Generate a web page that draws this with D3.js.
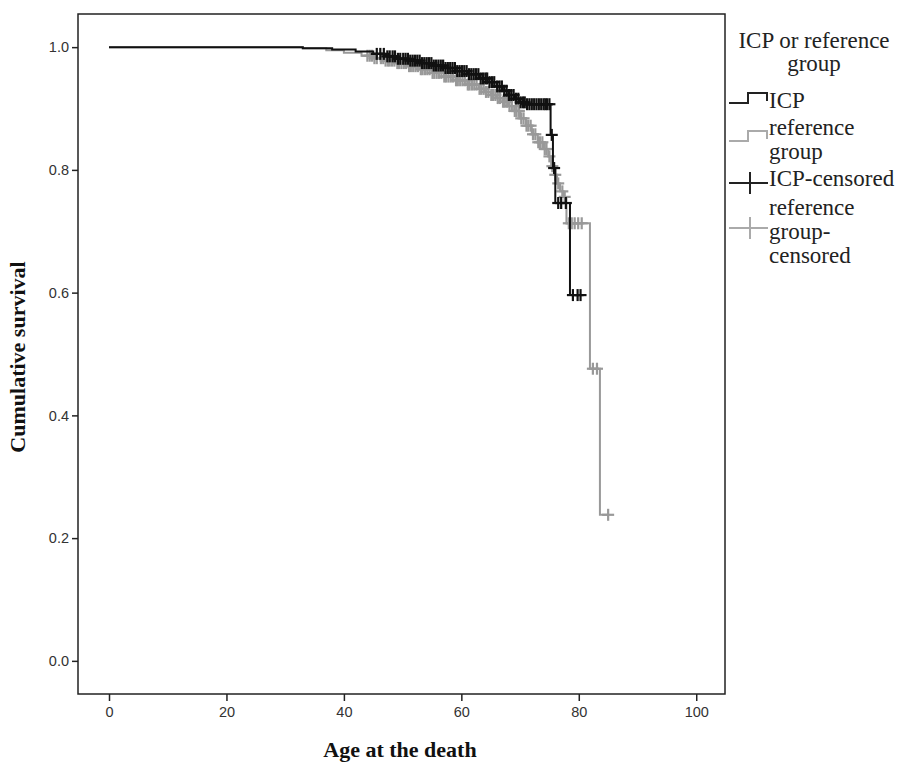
<!DOCTYPE html>
<html>
<head>
<meta charset="utf-8">
<script src="https://cdn.jsdelivr.net/npm/d3@7"></script>
<style>
  body { margin: 0; background: #fff; }
  svg { display: block; }
</style>
</head>
<body>
<svg></svg>
<script>
// Kaplan-Meier steps (age, survival after event)
var icpAges = [0, 33, 38, 42, 45, 47, 49, 51, 53, 55, 57, 59, 61, 63, 64.5, 66, 67, 68, 69, 70, 71, 75.2, 75.6, 76, 78.5];
var icpSurv = [1.0, 0.998, 0.996, 0.993, 0.989, 0.985, 0.981, 0.978, 0.974, 0.970, 0.966, 0.961, 0.956, 0.949, 0.943, 0.936, 0.929, 0.922, 0.916, 0.910, 0.907, 0.857, 0.803, 0.746, 0.596];
var icpCensored = [45.6, 46.2, 46.8, 47.4, 47.8, 48.3, 48.7, 49.2, 49.6, 50.1, 50.5, 50.9, 51.3, 51.7, 52.1, 52.5,
  52.9, 53.3, 53.7, 54.1, 54.5, 54.9, 55.3, 55.7, 56.1, 56.5, 56.9, 57.3, 57.7, 58.1, 58.5, 58.9, 59.3, 59.7,
  60.1, 60.5, 60.9, 61.3, 61.7, 62.1, 62.5, 62.9, 63.3, 63.7, 64.1, 64.4, 64.8, 65.2, 65.6, 66.1, 66.5, 66.9,
  67.3, 67.7, 68.1, 68.5, 68.9, 69.3, 69.7, 70.1, 70.5, 70.8, 71.2, 71.6, 72, 72.4, 72.8, 73.2, 73.6, 74,
  74.3, 74.6, 75, 75.4, 75.8, 76.5, 77, 77.8, 79, 79.8, 80.3];

var refAges = [0, 33, 37, 40, 43, 45, 47, 49, 51, 53, 55, 57, 59, 61, 63, 64, 65, 66, 67, 68, 69, 70, 71, 72, 73, 74,
  74.8, 75.3, 75.8, 76.3, 76.8, 77.4, 77.9, 81.9, 83.6];
var refSurv = [1.0, 0.998, 0.995, 0.991, 0.986, 0.982, 0.978, 0.974, 0.969, 0.964, 0.958, 0.952, 0.946, 0.939, 0.932,
  0.927, 0.922, 0.917, 0.911, 0.904, 0.896, 0.884, 0.872, 0.858, 0.845, 0.834, 0.822, 0.806, 0.792, 0.778, 0.765,
  0.756, 0.713, 0.476, 0.238];
var refCensored = [44, 44.4, 44.8, 45.2, 45.6, 46.3, 46.7, 47.1, 47.5, 47.8, 48.2, 48.6, 49.1, 49.4, 49.8, 50.2,
  50.6, 51.1, 51.4, 51.8, 52.2, 52.6, 53.1, 53.4, 53.8, 54.2, 54.6, 55.1, 55.4, 55.8, 56.2, 56.6, 57.1, 57.4,
  57.8, 58.2, 58.6, 59.1, 59.4, 59.8, 60.2, 60.6, 61.1, 61.4, 61.8, 62.2, 62.6, 63.1, 63.4, 63.8, 64.2, 64.6,
  65.1, 65.4, 65.8, 66.2, 66.6, 67.1, 67.4, 67.8, 68.2, 68.6, 69.1, 69.4, 69.8, 70.2, 70.6, 71.1, 71.4, 71.8,
  72.2, 72.6, 73.1, 73.4, 73.8, 74.2, 74.5, 75, 75.5, 76, 76.5, 77.2, 77.6, 78.3, 78.8, 79.3, 79.9, 80.5,
  82.4, 83.1, 85];

var xTicks = [0, 20, 40, 60, 80, 100];
var yTicks = [0.0, 0.2, 0.4, 0.6, 0.8, 1.0];

var w = 904, h = 763;
var svg = d3.select("svg").attr("width", w).attr("height", h);

var pLeft = 78, pTop = 14, pRight = 725, pBottom = 694;
var x = d3.scaleLinear().domain([-5.28, 104.9]).range([pLeft, pRight]);
var y = d3.scaleLinear().domain([-0.054, 1.054]).range([pBottom, pTop]);

var serif = "'Liberation Serif', 'Times New Roman', serif";
var sans = "'Liberation Sans', Arial, sans-serif";

// frame
svg.append("rect")
  .attr("x", pLeft).attr("y", pTop)
  .attr("width", pRight - pLeft).attr("height", pBottom - pTop)
  .attr("fill", "none").attr("stroke", "#222").attr("stroke-width", 1.5);

// axes
var xAxis = d3.axisBottom(x).tickValues(xTicks).tickSize(7).tickPadding(6).tickFormat(d3.format("d"));
var gx = svg.append("g").attr("transform", "translate(0," + pBottom + ")").call(xAxis);
gx.select(".domain").remove();

var yAxis = d3.axisLeft(y).tickValues(yTicks).tickSize(6).tickPadding(3).tickFormat(d3.format(".1f"));
var gy = svg.append("g").attr("transform", "translate(" + pLeft + ",0)").call(yAxis);
gy.select(".domain").remove();

svg.selectAll(".tick line").attr("stroke", "#222").attr("stroke-width", 1.5);
svg.selectAll(".tick text").attr("font-family", sans).attr("font-size", 14.5).attr("fill", "#333");

// axis titles
svg.append("text")
  .attr("x", 400).attr("y", 757)
  .attr("text-anchor", "middle")
  .attr("font-family", serif).attr("font-weight", "bold").attr("font-size", 22)
  .attr("fill", "#111")
  .text("Age at the death");

svg.append("text")
  .attr("transform", "translate(25,357) rotate(-90)")
  .attr("text-anchor", "middle")
  .attr("font-family", serif).attr("font-weight", "bold").attr("font-size", 22)
  .attr("fill", "#111")
  .text("Cumulative survival");

// curves
function survAt(ages, surv, t) {
  var i = d3.bisectRight(ages, t) - 1;
  return surv[Math.max(i, 0)];
}

function drawGroup(ages, surv, censored, color) {
  var last = d3.max(censored);
  var pts = ages.map(function(a, i) { return [a, surv[i]]; });
  pts.push([last, surv[surv.length - 1]]);
  var line = d3.line()
    .x(function(d) { return x(d[0]); })
    .y(function(d) { return y(d[1]); })
    .curve(d3.curveStepAfter);
  var g = svg.append("g");
  g.append("path").attr("d", line(pts))
    .attr("fill", "none").attr("stroke", color).attr("stroke-width", 2);
  var marks = g.selectAll("g.cens").data(censored).enter().append("g")
    .attr("transform", function(d) {
      return "translate(" + x(d) + "," + y(survAt(ages, surv, d)) + ")";
    });
  marks.append("line").attr("x1", -6).attr("x2", 6).attr("y1", 0).attr("y2", 0)
    .attr("stroke", color).attr("stroke-width", 2.2);
  marks.append("line").attr("x1", 0).attr("x2", 0).attr("y1", -6).attr("y2", 6)
    .attr("stroke", color).attr("stroke-width", 2.2);
}

drawGroup(refAges, refSurv, refCensored, "#999");
drawGroup(icpAges, icpSurv, icpCensored, "#111");

// legend
var leg = svg.append("g").attr("font-family", serif).attr("font-size", 23).attr("fill", "#222");
leg.append("text").attr("x", 814).attr("y", 48).attr("text-anchor", "middle").text("ICP or reference");
leg.append("text").attr("x", 814).attr("y", 71).attr("text-anchor", "middle").text("group");

function stepSymbol(yb, color) {
  leg.append("path")
    .attr("d", "M729," + yb + "H748V" + (yb - 10) + "H767V" + (yb - 2))
    .attr("fill", "none").attr("stroke", color).attr("stroke-width", 2);
}
function crossSymbol(yc, color) {
  leg.append("path")
    .attr("d", "M729," + yc + "H768M750," + (yc - 11) + "V" + (yc + 11))
    .attr("fill", "none").attr("stroke", color).attr("stroke-width", 2);
}

stepSymbol(103, "#222");
leg.append("text").attr("x", 769).attr("y", 108).text("ICP");

stepSymbol(141, "#aaa");
leg.append("text").attr("x", 769).attr("y", 135).text("reference");
leg.append("text").attr("x", 769).attr("y", 159).text("group");

crossSymbol(183, "#222");
leg.append("text").attr("x", 769).attr("y", 186).text("ICP-censored");

crossSymbol(228, "#aaa");
leg.append("text").attr("x", 769).attr("y", 215).text("reference");
leg.append("text").attr("x", 769).attr("y", 239).text("group-");
leg.append("text").attr("x", 769).attr("y", 263).text("censored");
</script>
</body>
</html>
